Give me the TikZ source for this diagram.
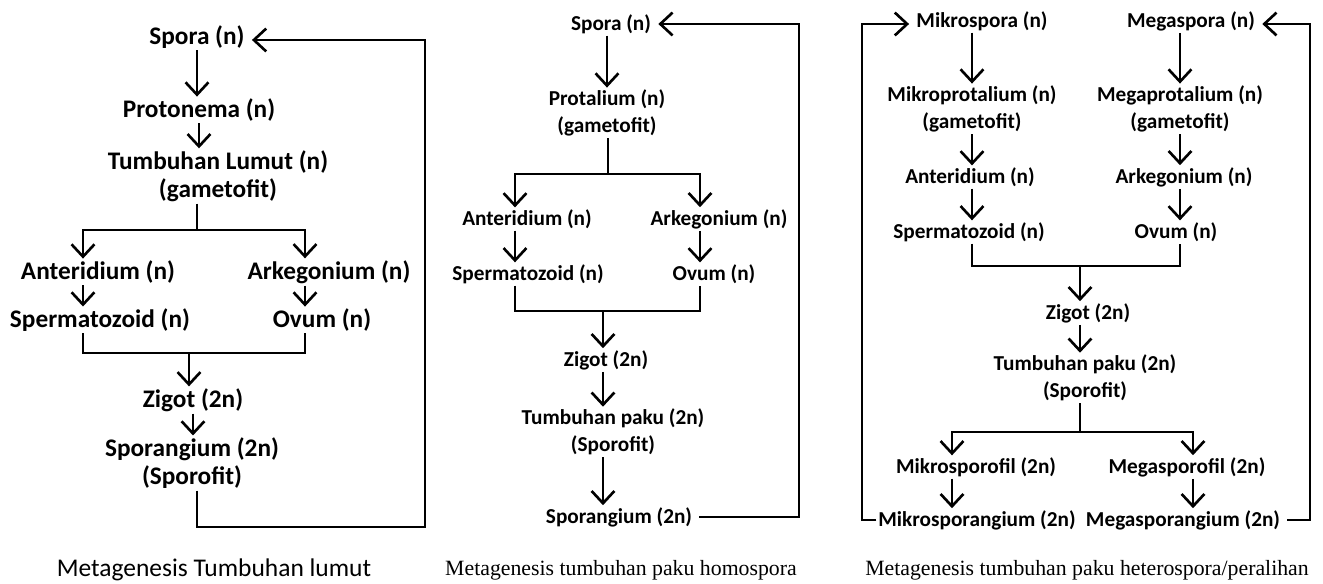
\documentclass[tikz,border=0pt]{standalone}
\usepackage{fontspec}
\setmainfont{Carlito}
\newfontfamily\timesfont{Liberation Serif}
\usetikzlibrary{arrows.meta}

\begin{document}
\begin{tikzpicture}
  [x=0.02cm,y=-0.02cm,
   every node/.style={font=\bfseries\fontsize{12.1}{15.5}\selectfont,align=center,inner sep=1pt},
   big/.style={font=\bfseries\fontsize{14.4}{16}\selectfont},
   arr/.style={-{Straight Barb[length=7pt,width=13pt,line width=1.5pt]},line width=1.4pt},
   ln/.style={line width=1.4pt}]
  \useasboundingbox (0,0) rectangle (1323,584);

  % lumut
  \node[big] (a1) at (197,37) {Spora (n)};
  \node[big] (a2) at (199,110) {Protonema (n)};
  \node[big] (a3) at (218,176) {Tumbuhan Lumut (n)\\(gametofit)};
  \node[big] (a4) at (98,272) {Anteridium (n)};
  \node[big] (a5) at (329,272) {Arkegonium (n)};
  \node[big] (a6) at (100,320) {Spermatozoid (n)};
  \node[big] (a7) at (322,320) {Ovum (n)};
  \node[big] (a8) at (193,400) {Zigot (2n)};
  \node[big] (a9) at (192,463) {Sporangium (2n)\\(Sporofit)};
  \node[font=\fontsize{14.5}{16}\selectfont] (a10) at (214,570) {Metagenesis Tumbuhan lumut};

  \coordinate (a3m) at (197,230);
  \coordinate (a3l) at (83,230);
  \coordinate (a3r) at (305,230);
  \coordinate (a7m) at (189,353);
  \coordinate (a11) at (425,527);
  \coordinate (a12) at (425,40);

  \foreach \from/\to in {a1/a2,a2/a3,a8/a9}
    \draw[arr] (\from) -- (\from |- \to.north);
  \draw[ln] (a3.south -| a3m) -- (a3m);
  \draw[arr] (a3m) -| (a3l |- a4.north);
  \draw[arr] (a3m) -| (a3r |- a5.north);
  \draw[arr] (a3l |- a4.south) -- (a3l |- a6.north);
  \draw[arr] (a3r |- a5.south) -- (a3r |- a7.north);
  \draw[ln] (a3l |- a6.south) |- (a7m) -| (a3r |- a7.south);
  \draw[arr] (a7m) -- (a7m |- a8.north);
  \draw[arr, shorten >=3pt] (a9.south -| a3m) |- (a11) -- (a12) -- (a12 -| a1.east);

  % paku homospora
  \node (b1) at (611,24) {Spora (n)};
  \node (b2) at (607,113) {Protalium (n)\\(gametofit)};
  \node (b3) at (527,219) {Anteridium (n)};
  \node (b4) at (719,219) {Arkegonium (n)};
  \node (b5) at (528,274) {Spermatozoid (n)};
  \node (b6) at (714,274) {Ovum (n)};
  \node (b7) at (606,360) {Zigot (2n)};
  \node (b8) at (613,432) {Tumbuhan paku (2n)\\(Sporofit)};
  \node (b9) at (619,517) {Sporangium (2n)};
  \node[font=\timesfont\fontsize{12.4}{15}\selectfont] (b10) at (621,570) {Metagenesis tumbuhan paku homospora};

  \coordinate (b2m) at (608,174);
  \coordinate (b2l) at (515,174);
  \coordinate (b2r) at (700,174);
  \coordinate (b6m) at (603,311);
  \coordinate (b11) at (799,517);
  \coordinate (b12) at (799,24);

  \draw[arr] (b2 |- b1.south) -- (b2.north);
  \draw[ln] (b2.south -| b2m) -- (b2m);
  \draw[arr] (b2m) -| (b2l |- b3.north);
  \draw[arr] (b2m) -| (b2r |- b4.north);
  \draw[arr] (b2l |- b3.south) -- (b2l |- b5.north);
  \draw[arr] (b2r |- b4.south) -- (b2r |- b6.north);
  \draw[ln] (b2l |- b5.south) |- (b6m) -| (b2r |- b6.south);
  \draw[arr] (b6m) -- (b6m |- b7.north);
  \draw[arr] (b6m |- b7.south) -- (b6m |- b8.north);
  \draw[arr] (b6m |- b8.south) -- (b6m |- b9.north);
  \draw[arr, shorten <=3pt, shorten >=3pt] (b9.east) -- (b11) -- (b12) -- (b12 -| b1.east);

  % paku heterospora
  \node (c1) at (982,21) {Mikrospora (n)};
  \node (c2) at (1191,21) {Megaspora (n)};
  \node (c3) at (972,109) {Mikroprotalium (n)\\(gametofit)};
  \node (c4) at (1180,109) {Megaprotalium (n)\\(gametofit)};
  \node (c5) at (970,177) {Anteridium (n)};
  \node (c6) at (1184,177) {Arkegonium (n)};
  \node (c7) at (969,232) {Spermatozoid (n)};
  \node (c8) at (1176,232) {Ovum (n)};
  \node (c9) at (1088,313) {Zigot (2n)};
  \node (c10) at (1085,378) {Tumbuhan paku (2n)\\(Sporofit)};
  \node (c11) at (976,467) {Mikrosporofil (2n)};
  \node (c12) at (1187,467) {Megasporofil (2n)};
  \node (c13) at (977,520) {Mikrosporangium (2n)};
  \node (c14) at (1183,520) {Megasporangium (2n)};
  \node[font=\timesfont\fontsize{12.4}{15}\selectfont] (c15) at (1087,570) {Metagenesis tumbuhan paku heterospora/peralihan};

  \coordinate (c9m) at (1080,266);
  \coordinate (c10m) at (1080,432);
  \coordinate (c10l) at (952,432);
  \coordinate (c10r) at (1193,432);
  \coordinate (c16) at (862,520);
  \coordinate (c17) at (862,24);
  \coordinate (c18) at (1310,520);
  \coordinate (c19) at (1310,24);

  \draw[arr] (c3 |- c1.south) -- (c3.north);
  \draw[arr] (c4 |- c2.south) -- (c4.north);
  \draw[arr] (c3) -- (c3 |- c5.north);
  \draw[arr] (c4) -- (c4 |- c6.north);
  \draw[arr] (c3 |- c5.south) -- (c3 |- c7.north);
  \draw[arr] (c4 |- c6.south) -- (c4 |- c8.north);
  \draw[ln] (c3 |- c7.south) |- (c9m) -| (c4 |- c8.south);
  \draw[arr] (c9m) -- (c9m |- c9.north);
  \draw[arr] (c9m |- c9.south) -- (c9m |- c10.north);
  \draw[ln] (c10.south -| c10m) -- (c10m);
  \draw[arr] (c10m) -| (c10l |- c11.north);
  \draw[arr] (c10m) -| (c10r |- c12.north);
  \draw[arr] (c10l |- c11.south) -- (c10l |- c13.north);
  \draw[arr] (c10r |- c12.south) -- (c10r |- c14.north);
  \draw[arr, shorten >=3pt] (c13.west) -- (c16) -- (c17) -- (c17 -| c1.west);
  \draw[arr, shorten <=3pt, shorten >=3pt] (c14.east) -- (c18) -- (c19) -- (c19 -| c2.east);

\end{tikzpicture}
\end{document}
